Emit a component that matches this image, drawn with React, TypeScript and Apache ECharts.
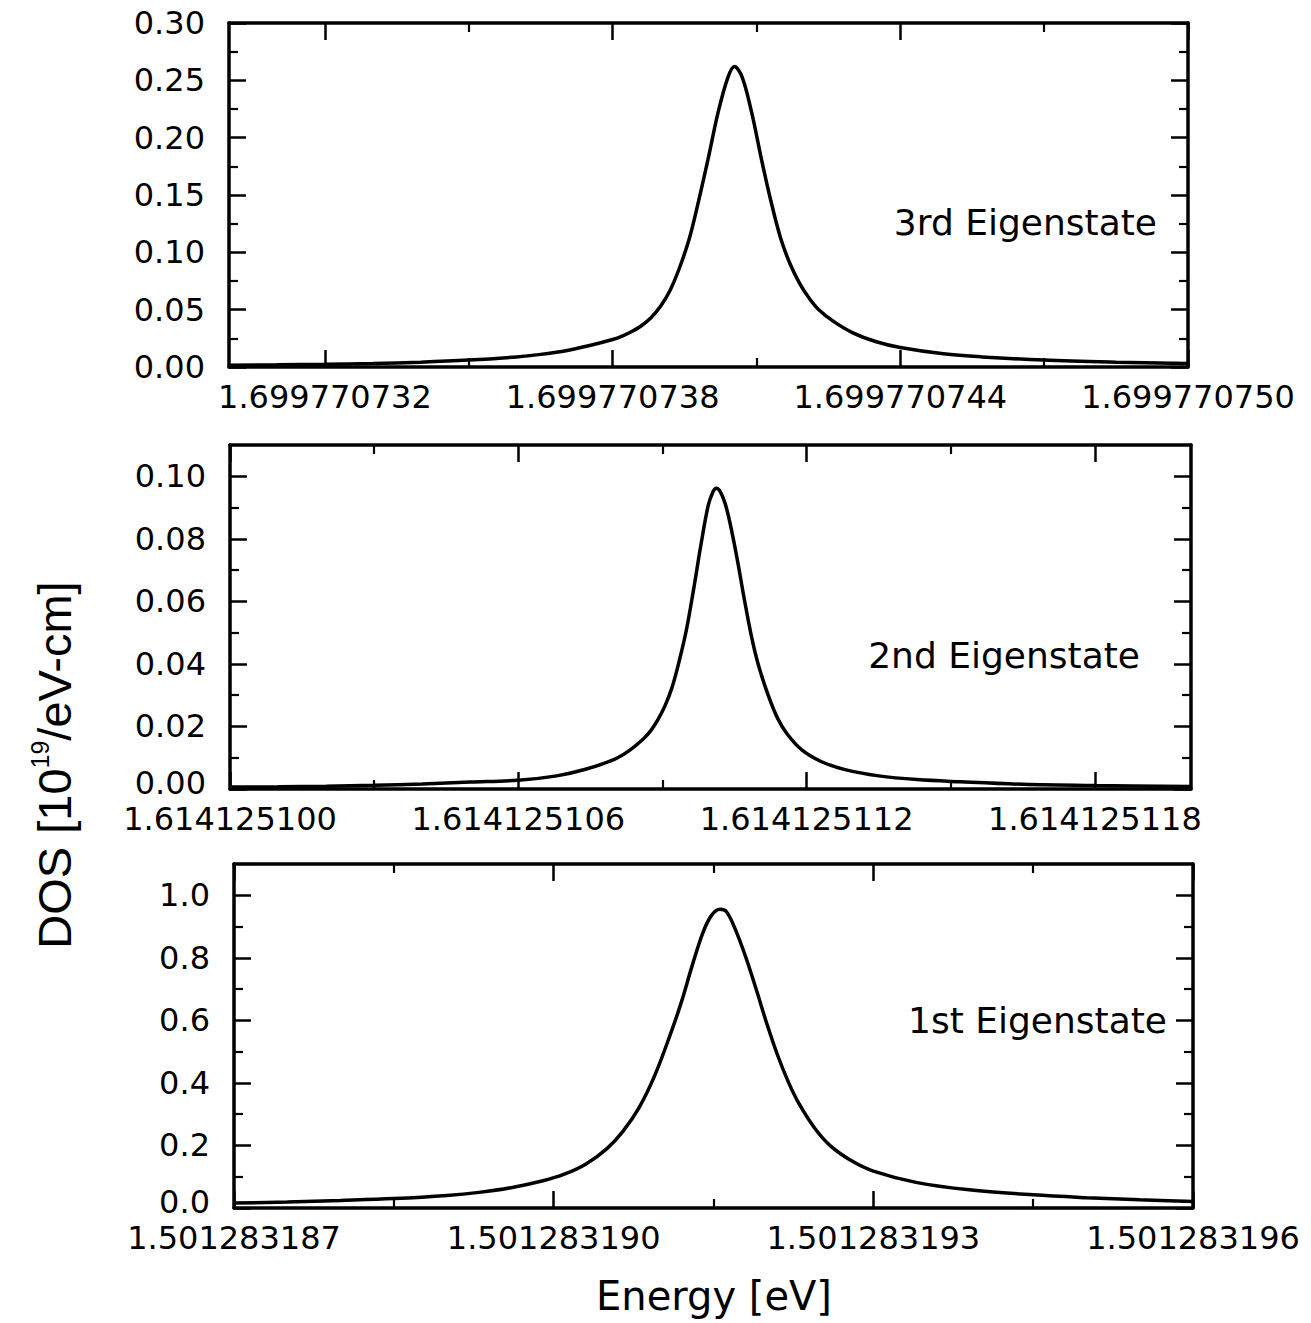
import React, { useEffect, useRef } from 'react';
import * as echarts from 'echarts';

// Energies are stored as offsets in units of 1e-9 eV (last digits of the energy).
// 3rd eigenstate: E = 1.699770xxx eV
const X3_RANGE = [730, 750];
const X3_MAJOR = [732, 738, 744, 750];
const X3_LABELS = ['1.699770732', '1.699770738', '1.699770744', '1.699770750'];
const X3_MINOR = [735, 741, 747];
const Y3_RANGE = [0, 0.3];
const Y3_MAJOR = [0, 0.05, 0.1, 0.15, 0.2, 0.25, 0.3];
const Y3_LABELS = ['0.00', '0.05', '0.10', '0.15', '0.20', '0.25', '0.30'];
const Y3_MINOR = [0.025, 0.075, 0.125, 0.175, 0.225, 0.275];
const E3 = [730, 731, 732, 733, 734, 735, 736, 736.5, 737, 737.5, 738, 738.2, 738.4, 738.6, 738.8, 739.0, 739.2, 739.4, 739.6, 739.8, 740.0, 740.2, 740.4, 740.54, 740.7, 740.9, 741.1, 741.3, 741.5, 741.7, 741.9, 742.1, 742.3, 742.6, 743.0, 743.5, 744, 744.9, 745.7, 747, 748.5, 750];
const DOS3 = [0.0016, 0.0019, 0.0024, 0.0031, 0.0042, 0.006, 0.0088, 0.011, 0.014, 0.0185, 0.024, 0.027, 0.031, 0.036, 0.043, 0.053, 0.067, 0.087, 0.112, 0.146, 0.183, 0.222, 0.252, 0.262, 0.253, 0.222, 0.182, 0.145, 0.113, 0.09, 0.073, 0.06, 0.05, 0.04, 0.03, 0.022, 0.017, 0.0115, 0.0088, 0.006, 0.0042, 0.003];

// 2nd eigenstate: E = 1.614125xxx eV
const X2_RANGE = [100, 120];
const X2_MAJOR = [100, 106, 112, 118];
const X2_LABELS = ['1.614125100', '1.614125106', '1.614125112', '1.614125118'];
const X2_MINOR = [103, 109, 115];
const Y2_RANGE = [0, 0.11];
const Y2_MAJOR = [0, 0.02, 0.04, 0.06, 0.08, 0.1];
const Y2_LABELS = ['0.00', '0.02', '0.04', '0.06', '0.08', '0.10'];
const Y2_MINOR = [0.01, 0.03, 0.05, 0.07, 0.09];
const E2 = [100, 101, 102, 103, 104, 105, 106, 106.8, 107.4, 108.0, 108.3, 108.6, 108.75, 108.9, 109.05, 109.2, 109.35, 109.5, 109.65, 109.8, 109.95, 110.05, 110.12, 110.2, 110.3, 110.4, 110.55, 110.7, 110.85, 111.0, 111.2, 111.4, 111.6, 111.9, 112.3, 112.8, 113.5, 114.3, 115.2, 116.5, 118, 120];
const DOS2 = [0.0006, 0.0007, 0.0009, 0.0012, 0.0016, 0.0022, 0.0028, 0.0042, 0.0063, 0.0095, 0.0122, 0.016, 0.0185, 0.022, 0.0265, 0.0325, 0.041, 0.051, 0.064, 0.078, 0.0905, 0.095, 0.0962, 0.0952, 0.0915, 0.0855, 0.074, 0.061, 0.049, 0.0395, 0.03, 0.0225, 0.0175, 0.0125, 0.0088, 0.0062, 0.0042, 0.003, 0.0023, 0.0015, 0.0011, 0.0008];

// 1st eigenstate: E = 1.501283xxx eV
const X1_RANGE = [187, 196];
const X1_MAJOR = [187, 190, 193, 196];
const X1_LABELS = ['1.501283187', '1.501283190', '1.501283193', '1.501283196'];
const X1_MINOR = [188.5, 191.5, 194.5];
const Y1_RANGE = [0, 1.1];
const Y1_MAJOR = [0, 0.2, 0.4, 0.6, 0.8, 1.0];
const Y1_LABELS = ['0.0', '0.2', '0.4', '0.6', '0.8', '1.0'];
const Y1_MINOR = [0.1, 0.3, 0.5, 0.7, 0.9];
const E1 = [187, 187.5, 188, 188.5, 189, 189.3, 189.6, 189.9, 190.1, 190.3, 190.5, 190.65, 190.8, 190.95, 191.1, 191.2, 191.3, 191.4, 191.48, 191.56, 191.62, 191.7, 191.8, 191.9, 192.0, 192.1, 192.2, 192.3, 192.45, 192.6, 192.8, 193.0, 193.4, 193.9, 194.5, 195, 195.5, 196];
const DOS1 = [0.016, 0.019, 0.024, 0.03, 0.04, 0.05, 0.065, 0.087, 0.108, 0.14, 0.19, 0.245, 0.32, 0.425, 0.56, 0.66, 0.775, 0.88, 0.935, 0.955, 0.948, 0.895, 0.805, 0.7, 0.59, 0.49, 0.405, 0.335, 0.255, 0.198, 0.15, 0.118, 0.082, 0.058, 0.042, 0.033, 0.026, 0.021];

const PANEL_NAMES = ['3rd Eigenstate', '2nd Eigenstate', '1st Eigenstate'];
const X_TITLE = 'Energy [eV]';

const PANELS = [
  { xRange: X3_RANGE, xMajor: X3_MAJOR, xLabels: X3_LABELS, xMinor: X3_MINOR, yRange: Y3_RANGE, yMajor: Y3_MAJOR, yLabels: Y3_LABELS, yMinor: Y3_MINOR, e: E3, d: DOS3 },
  { xRange: X2_RANGE, xMajor: X2_MAJOR, xLabels: X2_LABELS, xMinor: X2_MINOR, yRange: Y2_RANGE, yMajor: Y2_MAJOR, yLabels: Y2_LABELS, yMinor: Y2_MINOR, e: E2, d: DOS2 },
  { xRange: X1_RANGE, xMajor: X1_MAJOR, xLabels: X1_LABELS, xMinor: X1_MINOR, yRange: Y1_RANGE, yMajor: Y1_MAJOR, yLabels: Y1_LABELS, yMinor: Y1_MINOR, e: E1, d: DOS1 },
];

// layout (pixels)
const RECTS = [
  { left: 229, top: 23, width: 959, height: 344 },
  { left: 230, top: 445, width: 961, height: 344 },
  { left: 234, top: 864, width: 959, height: 344 },
];
const NAME_POS = [
  { x: 1157, y: 222 },
  { x: 1140, y: 655 },
  { x: 1167, y: 1020 },
];

const BLACK = '#000';
const TICK_FONT = "'DejaVu Sans', sans-serif";
const TICK_SIZE = 32;

function lookup(values: number[], labels: string[], liftFirst: boolean) {
  return (v: number) => {
    const i = values.findIndex((m) => Math.abs(m - v) < 1e-7);
    if (i < 0) return '';
    if (i === 0 && liftFirst) return '{lo|' + labels[i] + '}';
    return labels[i];
  };
}

function buildOption() {
  const grid: any[] = [];
  const xAxis: any[] = [];
  const yAxis: any[] = [];
  const series: any[] = [];
  const graphic: any[] = [];

  PANELS.forEach((p, gi) => {
    grid.push({ ...RECTS[gi], containLabel: false, outerBoundsMode: 'none' });
    const frameLine = { show: true, onZero: false, lineStyle: { color: BLACK, width: 3.5 } };
    const noLine = { show: false, onZero: false };
    const majorTick = (vals: number[]) => ({ show: true, inside: true, length: 17, customValues: vals, lineStyle: { color: BLACK, width: 2.5 } });
    const minorTick = (vals: number[]) => ({ show: true, inside: true, length: 9, customValues: vals, lineStyle: { color: BLACK, width: 2.2 } });
    // x labels start at the axis origin -> lift the y origin label a little
    const liftFirst = Math.abs(p.xMajor[0] - p.xRange[0]) < 1e-7;

    const xBase = xAxis.length;
    const xCommon = { type: 'value', gridIndex: gi, min: p.xRange[0], max: p.xRange[1], splitLine: { show: false }, minorTick: { show: false }, minorSplitLine: { show: false } };
    xAxis.push(
      {
        ...xCommon, position: 'bottom', axisLine: frameLine, axisTick: majorTick(p.xMajor),
        axisLabel: { show: true, customValues: p.xMajor, formatter: lookup(p.xMajor, p.xLabels, false), margin: 14, color: BLACK, fontFamily: TICK_FONT, fontSize: TICK_SIZE, showMinLabel: true, showMaxLabel: true, hideOverlap: false },
      },
      { ...xCommon, position: 'bottom', axisLine: noLine, axisTick: minorTick(p.xMinor), axisLabel: { show: false } },
      { ...xCommon, position: 'top', axisLine: frameLine, axisTick: majorTick(p.xMajor), axisLabel: { show: false } },
      { ...xCommon, position: 'top', axisLine: noLine, axisTick: minorTick(p.xMinor), axisLabel: { show: false } },
    );

    const yBase = yAxis.length;
    const yCommon = { type: 'value', gridIndex: gi, min: p.yRange[0], max: p.yRange[1], splitLine: { show: false }, minorTick: { show: false }, minorSplitLine: { show: false } };
    yAxis.push(
      {
        ...yCommon, position: 'left', axisLine: frameLine, axisTick: majorTick(p.yMajor),
        axisLabel: {
          show: true, customValues: p.yMajor, formatter: lookup(p.yMajor, p.yLabels, liftFirst), margin: 24,
          color: BLACK, fontFamily: TICK_FONT, fontSize: TICK_SIZE, showMinLabel: true, showMaxLabel: true, hideOverlap: false,
          rich: { lo: { color: BLACK, fontFamily: TICK_FONT, fontSize: TICK_SIZE, padding: [0, 0, 12, 0] } },
        },
      },
      { ...yCommon, position: 'left', axisLine: noLine, axisTick: minorTick(p.yMinor), axisLabel: { show: false } },
      { ...yCommon, position: 'right', axisLine: frameLine, axisTick: majorTick(p.yMajor), axisLabel: { show: false } },
      { ...yCommon, position: 'right', axisLine: noLine, axisTick: minorTick(p.yMinor), axisLabel: { show: false } },
    );

    series.push({
      type: 'line',
      name: PANEL_NAMES[gi],
      xAxisIndex: xBase,
      yAxisIndex: yBase,
      data: p.e.map((x, i) => [x, p.d[i]]),
      showSymbol: false,
      symbol: 'none',
      smooth: 0.35,
      lineStyle: { color: BLACK, width: 3.5 },
      silent: true,
    });

    graphic.push({
      type: 'text',
      x: NAME_POS[gi].x,
      y: NAME_POS[gi].y,
      style: {
        text: PANEL_NAMES[gi],
        fill: BLACK,
        fontFamily: TICK_FONT,
        fontSize: 36,
        align: 'right',
        verticalAlign: 'middle',
      },
    });
  });

  graphic.push({
    type: 'text',
    x: 714,
    y: 1296,
    style: {
      text: X_TITLE,
      fill: BLACK,
      fontFamily: TICK_FONT,
      fontSize: 40,
      align: 'center',
      verticalAlign: 'middle',
    },
  });

  graphic.push({
    type: 'text',
    x: 54,
    y: 765,
    rotation: Math.PI / 2,
    style: {
      text: '{a|DOS [10}{s|19}{a|/eV-cm]}',
      align: 'center',
      verticalAlign: 'middle',
      rich: {
        a: { fontFamily: "'Liberation Sans Narrow', 'Liberation Sans', sans-serif", fontSize: 47, fill: BLACK, lineHeight: 54, verticalAlign: 'middle' },
        s: { fontFamily: "'Liberation Sans Narrow', 'Liberation Sans', sans-serif", fontSize: 25, fill: BLACK, lineHeight: 54, verticalAlign: 'top' },
      },
    },
  });

  return {
    animation: false,
    backgroundColor: '#fff',
    grid,
    xAxis,
    yAxis,
    series,
    graphic,
  };
}

export default function App() {
  const ref = useRef<HTMLDivElement>(null);
  useEffect(() => {
    if (!ref.current) return;
    const chart = echarts.init(ref.current, undefined, { renderer: 'svg' });
    chart.setOption(buildOption() as any);
    return () => chart.dispose();
  }, []);
  return (
    <div
      ref={ref}
      style={{ position: 'absolute', left: 0, top: 0, width: 1311, height: 1323, background: '#fff' }}
    />
  );
}
